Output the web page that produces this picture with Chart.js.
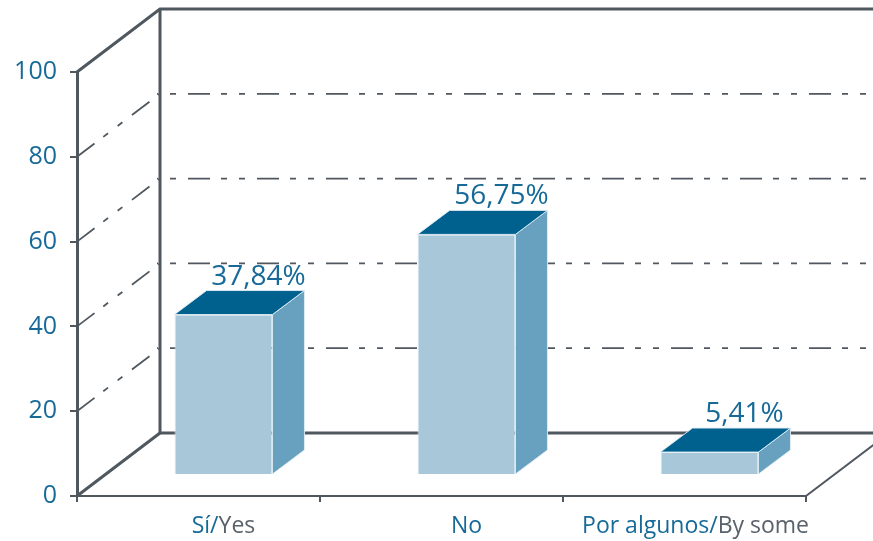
<!DOCTYPE html>
<html>
<head>
<meta charset="utf-8">
<script src="https://cdn.jsdelivr.net/npm/chart.js@4.4.1/dist/chart.umd.min.js"></script>
<style>
  html, body { margin: 0; padding: 0; background: #fff; }
  canvas { display: block; }
</style>
</head>
<body>
<canvas id="chart" width="873" height="541"></canvas>
<script>
const labelsEs = ['Sí', 'No', 'Por algunos'];
const labelsEn = ['Yes', '', 'By some'];
const values = [37.84, 56.75, 5.41];
const yTicks = [0, 20, 40, 60, 80, 100];

const BLUE = '#176a98';
const GREY = '#59616a';
const LINE = '#4f575f';
const FRONT = '#a8c8da';
const SIDE = '#67a1bf';
const TOP = '#00618f';

const BACK = { dx: 83, dy: -63 };      // depth of the whole box
const BAR_SHIFT = { dx: 25, dy: -21 }; // bars sit halfway into the box
const BAR_DEPTH = { dx: 32, dy: -24 };
const DASH = [22, 11, 6, 12, 6, 12];

function path(ctx, pts) {
    ctx.beginPath();
    ctx.moveTo(pts[0][0], pts[0][1]);
    for (let i = 1; i < pts.length; i++) ctx.lineTo(pts[i][0], pts[i][1]);
}

const fmt = v => v.toFixed(2).replace('.', ',') + '%';

const box3d = {
    id: 'box3d',
    beforeDatasetsDraw(chart) {
        const { ctx, chartArea: a, scales: { y } } = chart;
        const W = chart.width;
        const top = y.getPixelForValue(100);
        const bot = y.getPixelForValue(0);
        const bx = a.left + BACK.dx;

        ctx.save();
        ctx.strokeStyle = LINE;
        ctx.lineWidth = 1.8;
        ctx.setLineDash(DASH);
        yTicks.forEach(v => {
            if (v === 0 || v === 100) return;
            const py = y.getPixelForValue(v);
            ctx.lineDashOffset = 0;
            path(ctx, [[a.left, py], [bx, py + BACK.dy]]);
            ctx.stroke();
            ctx.lineDashOffset = 38;
            path(ctx, [[bx - 3, py + BACK.dy], [W, py + BACK.dy]]);
            ctx.stroke();
        });
        ctx.setLineDash([]);

        ctx.lineWidth = 3;
        path(ctx, [[a.left, top], [bx, top + BACK.dy], [W, top + BACK.dy]]);
        ctx.stroke();
        path(ctx, [[bx, top + BACK.dy], [bx, bot + BACK.dy], [W, bot + BACK.dy]]);
        ctx.stroke();
        path(ctx, [[a.left, bot], [bx, bot + BACK.dy]]);
        ctx.stroke();
        ctx.lineWidth = 2;
        path(ctx, [[a.right, bot], [a.right + BACK.dx, bot + BACK.dy]]);
        ctx.stroke();
        ctx.restore();

        // move the bar fronts into the box
        ctx.save();
        ctx.translate(BAR_SHIFT.dx, BAR_SHIFT.dy);
    },
    afterDatasetsDraw(chart) {
        const { ctx, chartArea: a } = chart;
        ctx.restore();

        const meta = chart.getDatasetMeta(0);
        meta.data.forEach((bar, i) => {
            const { x, y, base, width } = bar.getProps(['x', 'y', 'base', 'width'], true);
            const l = x - width / 2 + BAR_SHIFT.dx;
            const r = x + width / 2 + BAR_SHIFT.dx;
            const t = y + BAR_SHIFT.dy;
            const b = base + BAR_SHIFT.dy;
            const { dx, dy } = BAR_DEPTH;

            ctx.save();
            ctx.strokeStyle = 'rgba(225,238,245,0.9)';
            ctx.lineWidth = 1;
            ctx.fillStyle = SIDE;
            path(ctx, [[r, t], [r + dx, t + dy], [r + dx, b + dy], [r, b]]);
            ctx.closePath();
            ctx.fill();
            ctx.stroke();
            ctx.fillStyle = TOP;
            path(ctx, [[l, t], [l + dx, t + dy], [r + dx, t + dy], [r, t]]);
            ctx.closePath();
            ctx.fill();
            ctx.stroke();

            // value above the bar
            ctx.fillStyle = BLUE;
            ctx.font = '28px "Open Sans"';
            ctx.textAlign = 'center';
            ctx.textBaseline = 'alphabetic';
            ctx.fillText(fmt(values[i]), x + BAR_SHIFT.dx + dx + 3, t + dy - 6);

            // two-tone category label
            ctx.font = '23px "Open Sans"';
            ctx.textAlign = 'left';
            const es = labelsEn[i] ? labelsEs[i] + '/' : labelsEs[i];
            const en = labelsEn[i];
            const w1 = ctx.measureText(es).width;
            const w2 = ctx.measureText(en).width;
            let cx = x + BAR_SHIFT.dx;
            const half = (w1 + w2) / 2;
            if (cx + half > a.right + 3) cx = a.right + 3 - half;
            const lx = cx - half;
            ctx.fillStyle = BLUE;
            ctx.fillText(es, lx, 533);
            ctx.fillStyle = GREY;
            ctx.fillText(en, lx + w1, 533);
            ctx.restore();
        });
    }
};

new Chart(document.getElementById('chart').getContext('2d'), {
    type: 'bar',
    data: {
        labels: labelsEs,
        datasets: [{
            data: values,
            backgroundColor: FRONT,
            borderColor: 'rgba(225,238,245,0.9)',
            borderWidth: 1,
            barPercentage: 0.403,
            categoryPercentage: 1
        }]
    },
    options: {
        responsive: false,
        animation: false,
        devicePixelRatio: 1,
        layout: { padding: { top: 72, right: 67, left: 0, bottom: 0 } },
        plugins: { legend: { display: false }, tooltip: { enabled: false } },
        scales: {
            x: {
                grid: { drawOnChartArea: false, drawTicks: true, tickLength: 6, color: LINE, lineWidth: 2, offset: true },
                border: { display: true, color: LINE, width: 2 },
                ticks: { display: false },
                afterFit(s) { s.height = 45; }
            },
            y: {
                min: 0,
                max: 100,
                afterBuildTicks(s) { s.ticks = yTicks.map(v => ({ value: v })); },
                grid: { drawOnChartArea: false, drawTicks: true, tickLength: 7, color: LINE, lineWidth: 2 },
                border: { display: true, color: LINE, width: 3 },
                ticks: { color: BLUE, font: { family: 'Open Sans', size: 25 }, padding: 13 },
                afterFit(s) { s.width = 77; }
            }
        }
    },
    plugins: [box3d]
});
</script>
</body>
</html>
